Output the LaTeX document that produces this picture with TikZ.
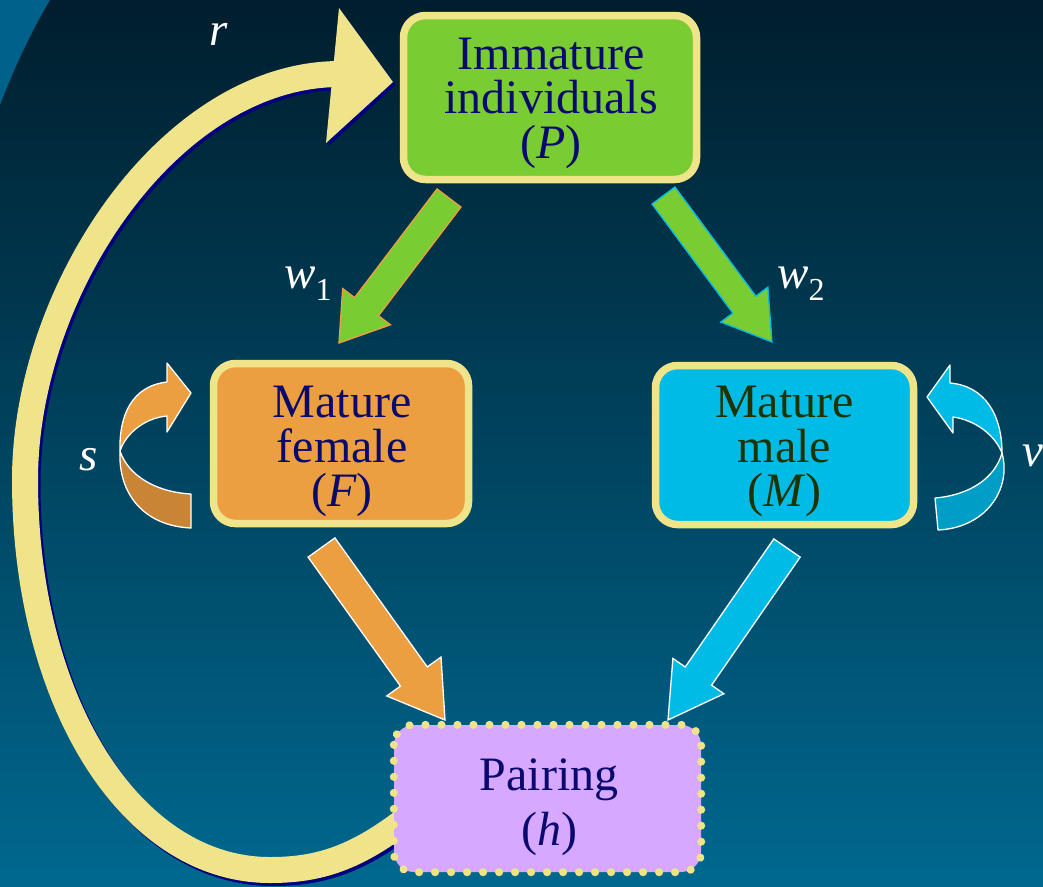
\documentclass[tikz,border=0pt]{standalone}
\usepackage{fontspec}
\setmainfont{Liberation Serif}
\usetikzlibrary{calc}
\definecolor{khaki}{HTML}{F0E48A}
\definecolor{bgtop}{HTML}{001E2D}
\definecolor{bgmid}{HTML}{004A68}
\definecolor{bgbot}{HTML}{00688F}
\definecolor{bgcorner}{HTML}{00628A}
\definecolor{pgreen}{HTML}{7ACC33}
\definecolor{porange}{HTML}{EC9F40}
\definecolor{porangedk}{HTML}{C98535}
\definecolor{pcyan}{HTML}{00BBE6}
\definecolor{pcyandk}{HTML}{009EC6}
\definecolor{plav}{HTML}{D6A8FF}
\definecolor{navytext}{HTML}{0A0A6E}
\definecolor{maletext}{HTML}{1F3300}
\definecolor{shadownavy}{HTML}{000080}
% #1 start, #2 end, #3 fill, #4 outline, #5 shaft half width, #6 head half width, #7 head length
\newcommand\blockarrow[7]{%
  \coordinate (tmpB) at ($(#2)!#7!(#1)$);
  \filldraw[fill=#3,draw=#4,line width=1.3pt,line join=miter]
    ($(#1)!#5!90:(#2)$) -- ($(tmpB)!#5!90:(#2)$) -- ($(tmpB)!#6!90:(#2)$) -- (#2)
    -- ($(tmpB)!#6!-90:(#2)$) -- ($(tmpB)!#5!-90:(#2)$) -- ($(#1)!#5!-90:(#2)$) -- cycle;
}
\begin{document}
\begin{tikzpicture}[x=1pt,y=-1pt,
  boxstyle/.style={draw=khaki,line width=7.5pt,rounded corners=22pt,inner sep=0pt},
  boxtext/.style={align=center,font=\fontsize{48}{44.5}\selectfont,text=navytext},
  lbl/.style={text=white,font=\fontsize{47}{47}\selectfont\itshape,inner sep=0pt},
  ribbon/.style={draw=white,line width=1.3pt,line join=round}]
\useasboundingbox (0,0) rectangle (1043,886);
% background
\shade[top color=bgtop,middle color=bgmid,bottom color=bgbot] (0,0) rectangle (1043,886);
\fill[bgcorner] (0,0) -- (50,0) .. controls (32,30) and (14,68) .. (0,105) -- cycle;

% r arrow (shadow, band, head)
\begin{scope}[transform canvas={shift={(2.5,3)}}]
  \draw[shadownavy,line width=26pt] (420,808) .. controls (360,858) and (320,870) .. (270,870)
     .. controls (130,870) and (25,700) .. (25,480) .. controls (25,290) and (170,74) .. (340,74);
  \fill[shadownavy] (339,8) -- (393,82) -- (326,143) -- cycle;
\end{scope}
\draw[khaki,line width=26pt] (420,808) .. controls (360,858) and (320,870) .. (270,870)
     .. controls (130,870) and (25,700) .. (25,480) .. controls (25,290) and (170,74) .. (340,74);
\fill[khaki] (339,8) -- (393,82) -- (326,143) -- cycle;

% boxes
\node[boxstyle,fill=pgreen,minimum width=293pt,minimum height=164pt] (P) at (550,97.5) {};
\node[boxstyle,fill=porange,minimum width=255pt,minimum height=160pt] (F) at (341,443.5) {};
\node[boxstyle,fill=pcyan,minimum width=258pt,minimum height=159pt] (M) at (784.5,445) {};
\node[fill=plav,rounded corners=20pt,minimum width=307pt,minimum height=147pt,inner sep=0pt] (H) at (547.5,798.5) {};
\draw[khaki,line width=8pt,line cap=round,dash pattern=on 0.1pt off 15.9pt,rounded corners=20pt]
  (H.north west) rectangle (H.south east);

\node[boxtext] (Ptext) at ($(P.center)+(1,5.5)$) {Immature\\individuals\\(\textit{P})};
\node[boxtext] (Ftext) at ($(F.center)+(1,8)$) {Mature\\female\\(\textit{F})};
\node[boxtext,text=maletext] (Mtext) at ($(M.center)+(0,6.5)$) {Mature\\male\\(\textit{M})};
\node[boxtext,font=\fontsize{48}{55}\selectfont] (Htext) at ($(H.center)+(1.5,8.5)$) {Pairing\\(\textit{h})};

% block arrows
\coordinate (gLs) at (449,198);   \coordinate (gLe) at (339,343);
\coordinate (gRs) at (663.5,195.5); \coordinate (gRe) at (772,342);
\coordinate (oS) at (321.5,547.5); \coordinate (oE) at (445,720);
\coordinate (cS) at (787,548);     \coordinate (cE) at (668,720);
\blockarrow{gLs}{gLe}{pgreen}{porange}{15pt}{30pt}{45.6pt}
\blockarrow{gRs}{gRe}{pgreen}{pcyan}{14.3pt}{29.3pt}{46.5pt}
\blockarrow{oS}{oE}{porange}{white}{16.5pt}{33.4pt}{53.5pt}
\blockarrow{cS}{cE}{pcyan}{white}{16pt}{31pt}{53.4pt}

% s self loop
\filldraw[ribbon,fill=porangedk] (120,451) .. controls (118,495) and (145,526) .. (191,528)
   -- (191,494) .. controls (155,492) and (128,475) .. (120,451) -- cycle;
\filldraw[ribbon,fill=porange] (120,451) .. controls (119,415) and (132,386) .. (167,382)
   -- (167,363) -- (191,393) -- (167,432) -- (167,416)
   .. controls (145,418) and (126,433) .. (120,451) -- cycle;
% v self loop
\filldraw[ribbon,fill=pcyandk] (1002,453) .. controls (1012,490) and (985,528) .. (938,530)
   -- (935,498) .. controls (970,495) and (995,478) .. (1002,453) -- cycle;
\filldraw[ribbon,fill=pcyan] (1002,453) .. controls (1002,415) and (985,386) .. (950,383)
   -- (950,365) -- (927,397) -- (953,433) -- (953,417)
   .. controls (975,420) and (995,435) .. (1002,453) -- cycle;

% labels
\node[lbl,anchor=base] (rl) at (219,45) {r};
\node[lbl,anchor=base] (sl) at (89,470) {s};
\node[lbl,anchor=base west] (vl) at (1022,466) {v};
\node[lbl,anchor=base west] (w1) at (284,288) {w\raisebox{-12pt}{\fontsize{32}{32}\selectfont\upshape 1}};
\node[lbl,anchor=base west] (w2) at (777,288) {w\raisebox{-12pt}{\fontsize{32}{32}\selectfont\upshape 2}};
\end{tikzpicture}
\end{document}
